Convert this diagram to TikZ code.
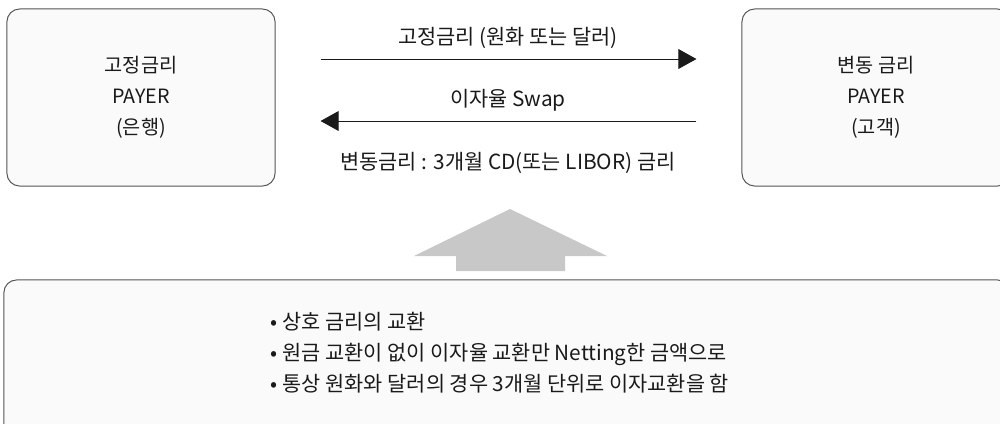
\documentclass[tikz,border=0pt]{standalone}
\usepackage{fontspec}
\setmainfont{Noto Sans CJK KR}
\usepackage{tikz}
\usetikzlibrary{arrows.meta}

\definecolor{boxline}{HTML}{555555}
\definecolor{boxfill}{HTML}{FAFAFA}
\definecolor{blockgray}{HTML}{C8C8C8}
\definecolor{ink}{HTML}{1A1A1A}

\begin{document}
\begin{tikzpicture}[x=0.025cm,y=-0.025cm,
  party/.style={draw=boxline,fill=boxfill,rounded corners=9pt,line width=0.7pt,
    minimum width=6.7cm,minimum height=4.425cm,align=center,text=ink,
    font=\fontsize{14}{22}\selectfont},
  flow/.style={-{Triangle[length=12.8pt,width=14pt]},line width=0.7pt,ink,
    shorten <=1.125cm,shorten >=1.125cm},
  flowlabel/.style={text=ink,font=\fontsize{14.8}{18}\selectfont}]
\useasboundingbox (0,0) rectangle (1000,423);
\clip (0,0) rectangle (1000,423);
\fill[white] (0,0) rectangle (1000,423);
% two parties
\node[party] (fixed) at (141,97.5) {고정금리\\PAYER\\(은행)};
\node[party] (floating) at (876,97.5) {변동 금리\\PAYER\\(고객)};
% swap arrows
\coordinate (upper) at (0,59);
\coordinate (lower) at (0,121);
\draw[flow] (fixed.east |- upper) -- (floating.west |- upper);
\draw[flow] (floating.west |- lower) -- (fixed.east |- lower);
\node[flowlabel] (fixlabel) at (508,38) {고정금리 (원화 또는 달러)};
\node[flowlabel] (swaplabel) at (508,100) {이자율 Swap};
\node[flowlabel] (floatlabel) at (508,163) {변동금리 : 3개월 CD(또는 LIBOR) 금리};
% block arrow
\fill[blockgray] (510,209) -- (607,256) -- (565,256) -- (565,271)
  -- (456,271) -- (456,256) -- (414,256) -- cycle;
% summary box
\node[party,minimum width=25.15cm,minimum height=4cm] (summary) at (507,360) {};
\node[anchor=west,align=left,text=ink,font=\fontsize{14.8}{22}\selectfont]
  (points) at (266,353) {• 상호 금리의 교환\\
  • 원금 교환이 없이 이자율 교환만 Netting한 금액으로\\
  • 통상 원화와 달러의 경우 3개월 단위로 이자교환을 함};
\end{tikzpicture}
\end{document}
